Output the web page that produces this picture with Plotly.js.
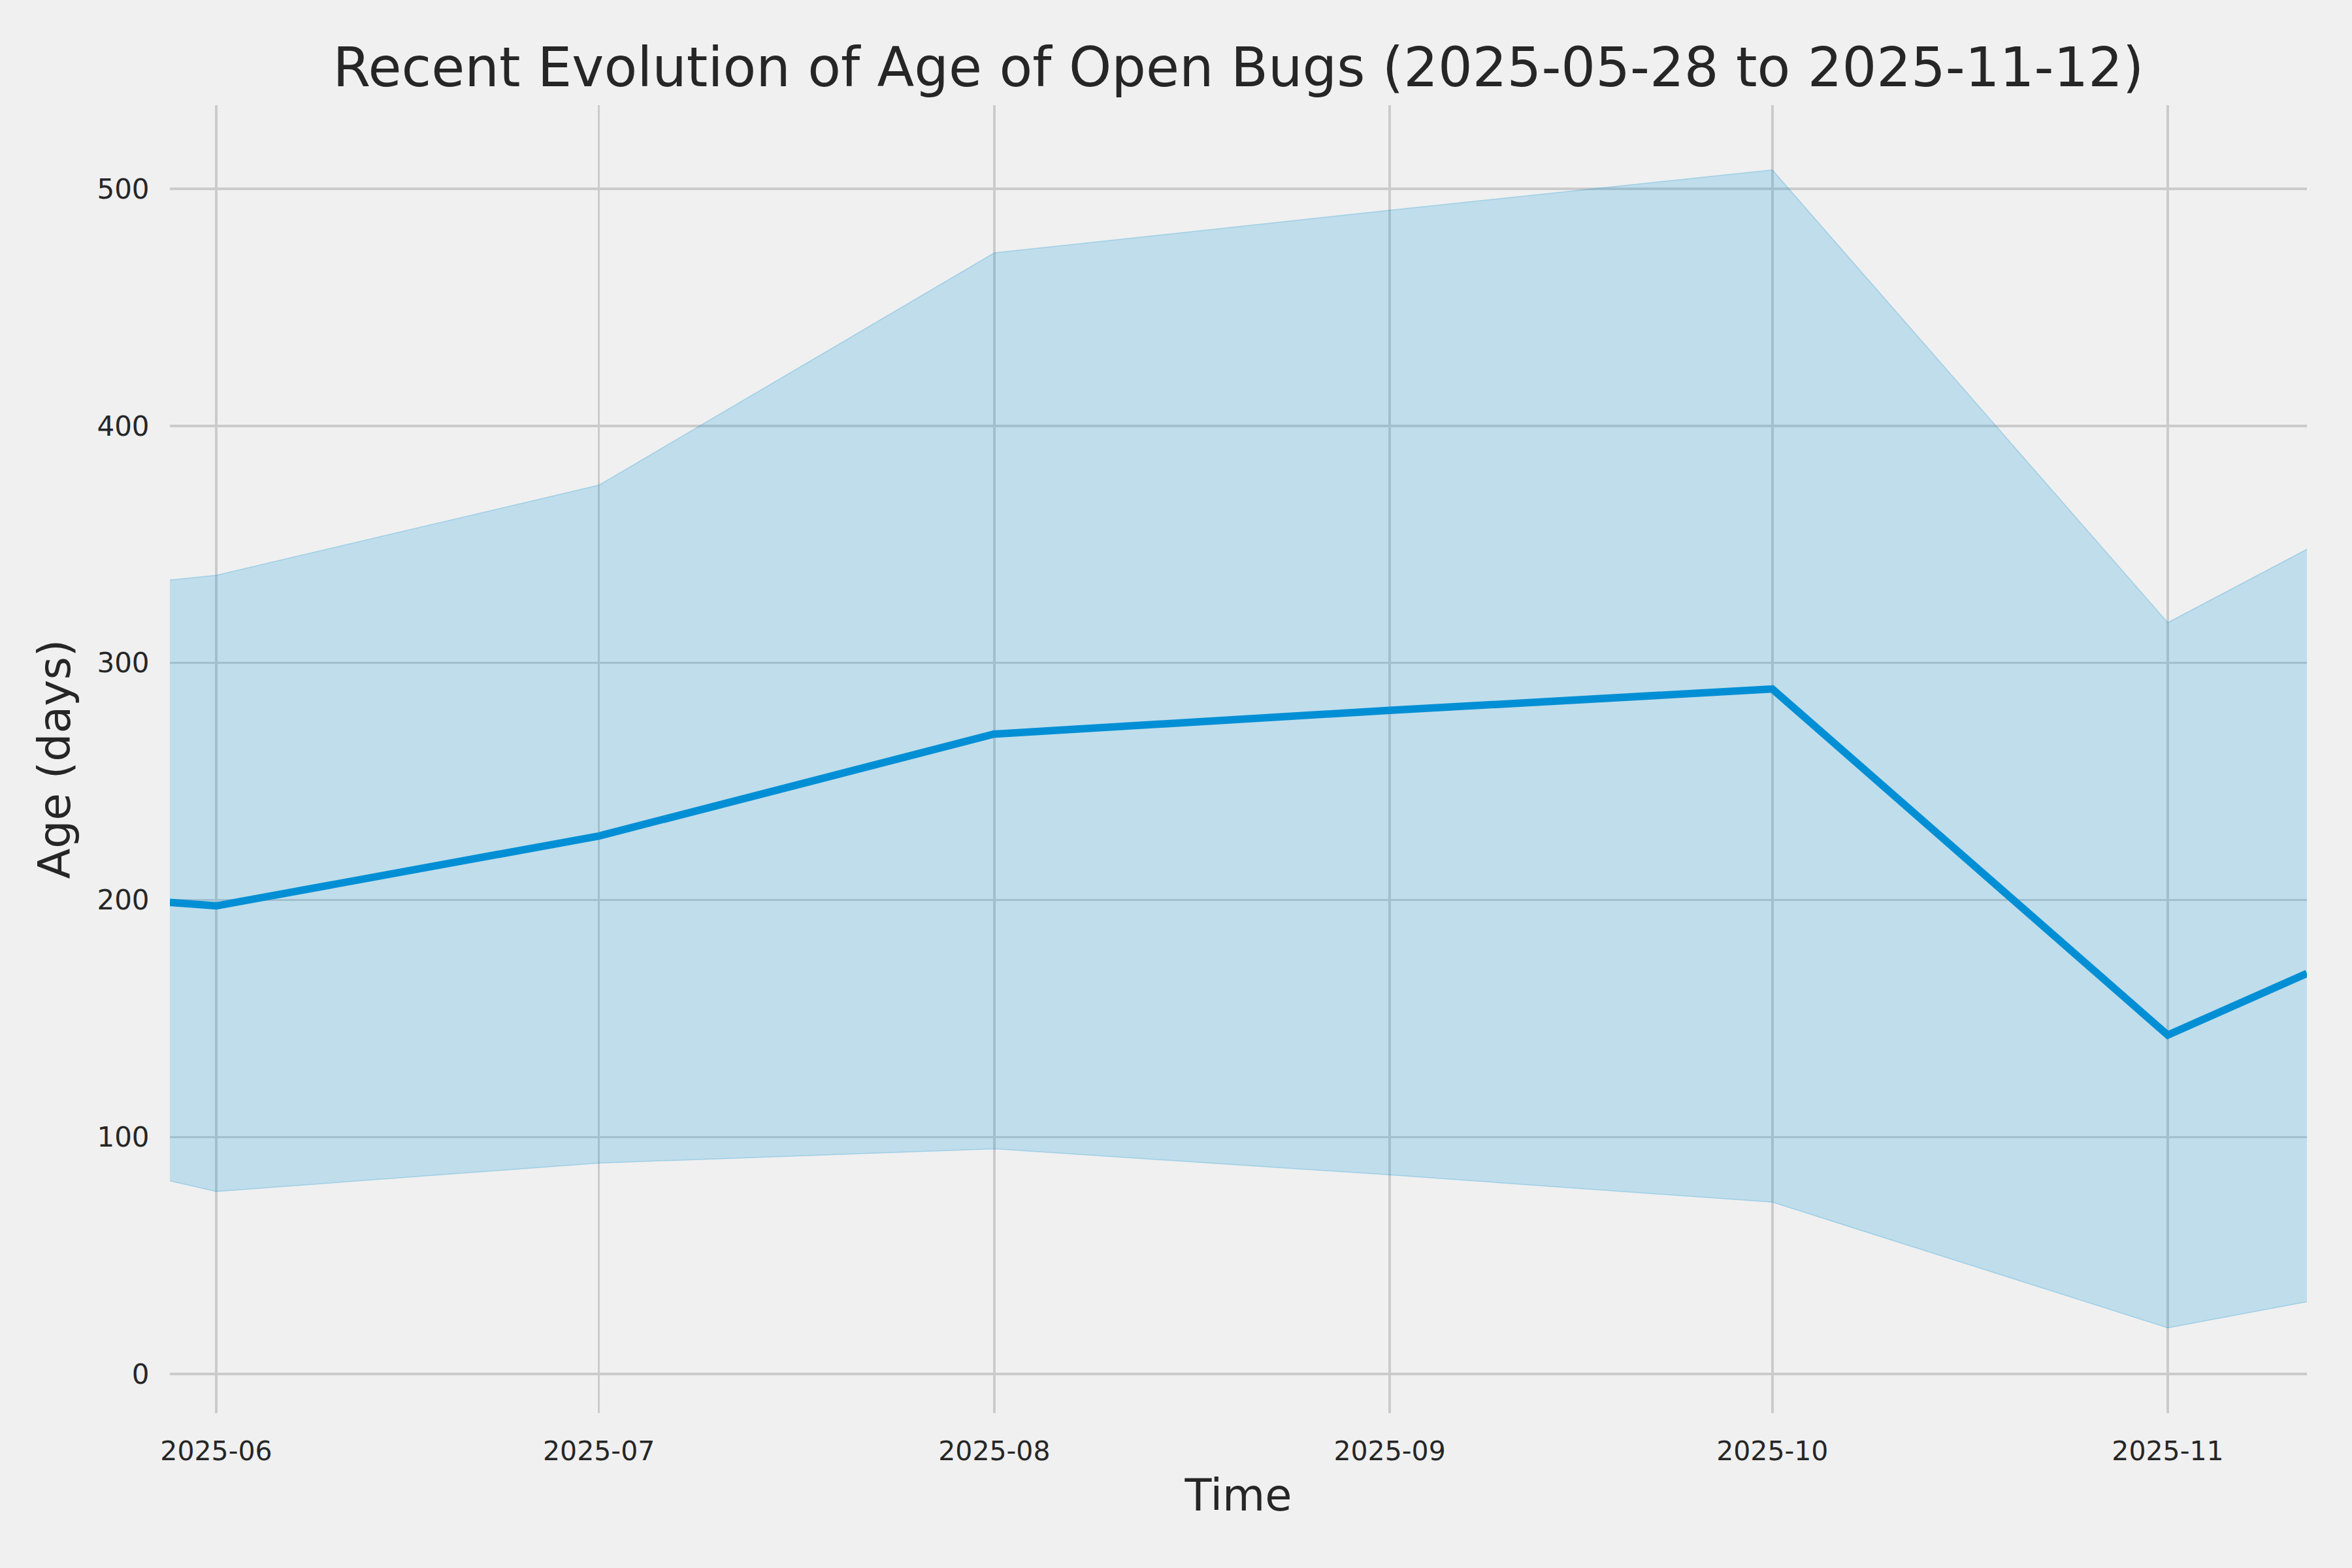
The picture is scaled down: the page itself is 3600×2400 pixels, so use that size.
<!DOCTYPE html>
<html>
<head>
<meta charset="utf-8">
<script src="https://cdn.plot.ly/plotly-3.0.1.min.js"></script>
<style>html,body{margin:0;padding:0;background:#f0f0f0;}#chart{width:3600px;height:2400px;}</style>
</head>
<body>
<div id="chart"></div>
<script>
const dates = ['2025-05-28 08:45','2025-06-01','2025-07-01','2025-08-01','2025-09-01','2025-10-01','2025-11-01','2025-11-11 21:50'];
const medianAge = [199, 197.5, 227, 270, 280, 289, 143, 169];
const upperAge = [335, 337, 375, 473, 491, 508, 317, 348];
const lowerAge = [81.5, 77, 89, 95, 84, 72.5, 19.5, 30.5];
const tickDates = ['2025-06-01','2025-07-01','2025-08-01','2025-09-01','2025-10-01','2025-11-01'];
const tickLabels = ['2025-06','2025-07','2025-08','2025-09','2025-10','2025-11'];
const yTicks = [0, 100, 200, 300, 400, 500];

const traces = [
  {x: dates, y: lowerAge, type: 'scatter', mode: 'lines',
   line: {color: 'rgba(0,143,213,0.25)', width: 1.5}, showlegend: false, hoverinfo: 'skip'},
  {x: dates, y: upperAge, type: 'scatter', mode: 'lines', fill: 'tonexty',
   fillcolor: 'rgba(0,143,213,0.2)',
   line: {color: 'rgba(0,143,213,0.25)', width: 1.5}, showlegend: false, hoverinfo: 'skip'},
  {x: dates, y: medianAge, type: 'scatter', mode: 'lines',
   line: {color: '#008fd5', width: 11.5}, showlegend: false}
];

const layout = {
  width: 3600, height: 2400,
  paper_bgcolor: '#f0f0f0', plot_bgcolor: '#f0f0f0',
  font: {family: 'DejaVu Sans', color: '#262626'},
  margin: {l: 260, r: 69, t: 161, b: 237},
  title: {text: 'Recent Evolution of Age of Open Bugs (2025-05-28 to 2025-11-12)',
          font: {size: 83, color: '#262626'}, xref: 'paper', x: 0.5, xanchor: 'center', y: 0.957, yanchor: 'middle'},
  xaxis: {
    type: 'date', range: ['2025-05-28 08:45', '2025-11-11 21:50'],
    tickvals: tickDates, ticktext: tickLabels,
    showgrid: true, gridcolor: '#cbcbcb', gridwidth: 3.5,
    zeroline: false, showline: false,
    ticks: 'outside', ticklen: 22, tickcolor: 'rgba(0,0,0,0)',
    tickfont: {size: 41, color: '#262626'},
    title: {text: 'Time', font: {size: 67, color: '#262626'}, standoff: 20}
  },
  yaxis: {
    range: [-16.5, 535.3],
    tickvals: yTicks,
    showgrid: true, gridcolor: '#cbcbcb', gridwidth: 3.5,
    zeroline: false, showline: false,
    ticks: 'outside', ticklen: 22, tickcolor: 'rgba(0,0,0,0)',
    tickfont: {size: 42, color: '#262626'},
    title: {text: 'Age (days)', font: {size: 68, color: '#262626'}, standoff: 18}
  }
};

Plotly.newPlot('chart', traces, layout, {staticPlot: true});
</script>
</body>
</html>
